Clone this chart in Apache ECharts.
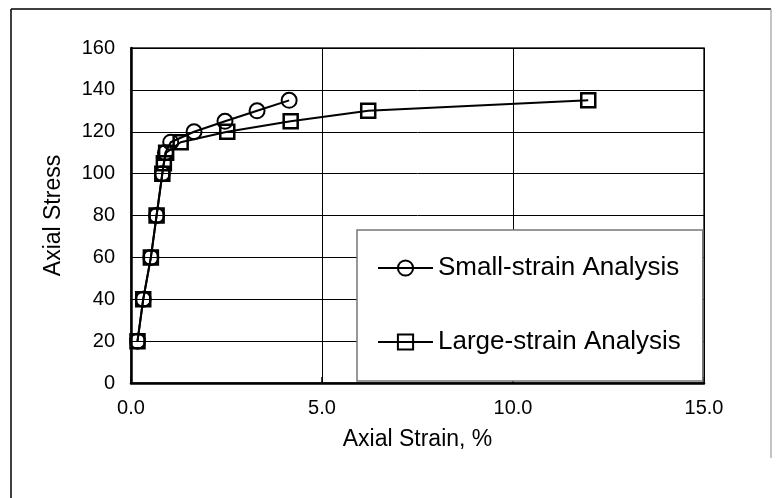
<!DOCTYPE html>
<html>
<head>
<meta charset="utf-8">
<script src="https://cdn.jsdelivr.net/npm/echarts@6/dist/echarts.min.js"></script>
<style>html,body{margin:0;padding:0;background:#fff;}#c{width:780px;height:498px;}</style>
</head>
<body>
<div id="c"></div>
<script>
var smallStrain = [0.17, 0.32, 0.52, 0.67, 0.82, 0.90, 1.04, 1.65, 2.46, 3.30, 4.14];
var smallStress = [20, 40, 60, 80, 100, 110, 115, 120, 125, 130, 135];
var largeStrain = [0.17, 0.32, 0.52, 0.67, 0.82, 0.86, 0.92, 1.30, 2.52, 4.18, 6.21, 11.97];
var largeStress = [20, 40, 60, 80, 100, 105, 110, 115, 120, 125, 130, 135];
var seriesNames = ['Small-strain Analysis', 'Large-strain Analysis'];

function pairs(xs, ys) { return xs.map(function (x, i) { return [x, ys[i]]; }); }

var chart = echarts.init(document.getElementById('c'), null, {renderer: 'canvas'});
var font = 'Liberation Sans, Arial, sans-serif';
chart.setOption({
  animation: false,
  backgroundColor: '#fff',
  graphic: [
    {type: 'line', shape: {x1: 11, y1: 9, x2: 771, y2: 9}, style: {stroke: '#000', lineWidth: 1.5}},
    {type: 'line', shape: {x1: 11, y1: 9, x2: 11, y2: 498}, style: {stroke: '#000', lineWidth: 1.5}},
    {type: 'line', shape: {x1: 771, y1: 9, x2: 771, y2: 458}, style: {stroke: '#888', lineWidth: 1}}
  ],
  grid: {left: 131, right: 76, top: 48, bottom: 115, show: true, borderColor: '#222', borderWidth: 1.5, backgroundColor: 'transparent'},
  xAxis: {
    type: 'value', min: 0, max: 15, interval: 5,
    name: 'Axial Strain, %', nameLocation: 'middle', nameGap: 45,
    nameTextStyle: {fontFamily: font, fontSize: 23, color: '#000'},
    axisLine: {show: true, onZero: false, lineStyle: {color: '#000', width: 2.5}},
    axisTick: {show: true, inside: true, length: 6, lineStyle: {color: '#000', width: 1.5}},
    axisLabel: {fontFamily: font, fontSize: 20, color: '#000', margin: 15, formatter: function (v) { return v.toFixed(1); }},
    splitLine: {show: true, lineStyle: {color: '#000', width: 1}}
  },
  yAxis: {
    type: 'value', min: 0, max: 160, interval: 20,
    name: 'Axial Stress', nameLocation: 'middle', nameGap: 66, nameRotate: 90,
    nameTextStyle: {fontFamily: font, fontSize: 23, color: '#000'},
    axisLine: {show: true, lineStyle: {color: '#000', width: 2.5}},
    axisTick: {show: false},
    axisLabel: {fontFamily: font, fontSize: 20, color: '#000', margin: 16},
    splitLine: {show: true, lineStyle: {color: '#000', width: 1}}
  },
  legend: {
    orient: 'vertical', left: 357, top: 230,
    data: seriesNames,
    itemWidth: 55, itemHeight: 19, itemGap: 48,
    padding: [25, 22, 26, 20],
    backgroundColor: '#fff', borderColor: '#777', borderWidth: 1.5,
    textStyle: {fontFamily: font, fontSize: 26, color: '#000'}
  },
  series: [
    {
      name: seriesNames[0], type: 'line', data: pairs(smallStrain, smallStress),
      symbol: 'circle', symbolSize: 15, showAllSymbol: true,
      lineStyle: {color: '#000', width: 2},
      itemStyle: {color: 'rgba(255,255,255,0)', borderColor: '#000', borderWidth: 2},
      z: 3
    },
    {
      name: seriesNames[1], type: 'line', data: pairs(largeStrain, largeStress),
      symbol: 'rect', symbolSize: 14, showAllSymbol: true,
      lineStyle: {color: '#000', width: 2},
      itemStyle: {color: 'rgba(255,255,255,0)', borderColor: '#000', borderWidth: 2.5},
      z: 2
    }
  ]
});
</script>
</body>
</html>
